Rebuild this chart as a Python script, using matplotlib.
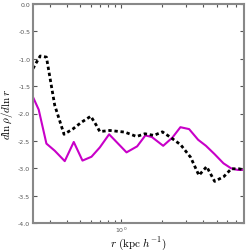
import numpy as np
import matplotlib
matplotlib.use("Agg")
import matplotlib.pyplot as plt
from matplotlib.ticker import LogLocator, MultipleLocator, NullFormatter

plt.rcParams['mathtext.fontset'] = 'cm'

def r_of(px):
    return 10 ** ((np.asarray(px) - 121.5) / 136.0)

# Purple (solid) series
purple_r = r_of([33.3, 39, 46.7, 55, 65, 74, 82.7, 91.7, 100, 109.3, 126.7, 137.3,
                 145.5, 152, 163.3, 172.5, 180.5, 189.2, 198.2, 206, 214.5, 223.5,
                 231, 237.5, 244])
purple_slope = [-1.70, -1.93, -2.55, -2.68, -2.87, -2.52, -2.86, -2.79, -2.62, -2.38,
                -2.71, -2.60, -2.40, -2.43, -2.59, -2.44, -2.25, -2.285, -2.48, -2.59,
                -2.74, -2.91, -3.00, -3.03, -3.03]

# Black (dashed) series
black_r = r_of([33.3, 36, 40.5, 46.7, 55, 64.3, 73.3, 81.7, 91, 96.7, 100, 110, 125,
                136.7, 145, 154, 162.5, 171, 180.7, 190.7, 199, 206.7, 214.7, 224,
                231.3, 239, 244])
black_slope = [-1.18, -1.09, -0.95, -0.97, -1.85, -2.38, -2.28, -2.16, -2.05, -2.22,
               -2.33, -2.31, -2.34, -2.42, -2.37, -2.40, -2.335, -2.44, -2.57, -2.80,
               -3.13, -2.97, -3.24, -3.15, -3.01, -3.01, -3.03]

fig = plt.figure(figsize=(2.48, 2.51), dpi=100)
ax = fig.add_axes([33/248, 1 - 224/251, (244-33)/248, (224-5)/251])

ax.plot(purple_r, purple_slope, color='#c800c8', lw=1.5)
ax.plot(black_r, black_slope, color='black', lw=2.0, dashes=(1.2, 1.0))

ax.set_xscale('log')
ax.set_xlim(r_of(33.3)[()], r_of(244)[()])
ax.set_ylim(-4.0, 0.0)
ax.yaxis.set_major_locator(MultipleLocator(0.5))
ax.yaxis.set_major_formatter(matplotlib.ticker.FormatStrFormatter('%.1f'))
ax.xaxis.set_major_locator(LogLocator(base=10))
ax.xaxis.set_minor_locator(LogLocator(base=10, subs=np.arange(2, 10)))
ax.xaxis.set_minor_formatter(NullFormatter())

for s in ax.spines.values():
    s.set_color('#888888')
    s.set_linewidth(1.5)
ax.tick_params(which='both', direction='in', top=True, right=True,
               colors='#555555', labelsize=4.5, width=0.8)
ax.tick_params(which='major', length=3, pad=2)
ax.tick_params(axis='x', which='major', pad=1)
ax.tick_params(which='minor', length=2)

ax.set_xlabel(r'$r\ (\mathrm{kpc}\ h^{-1})$', fontsize=8)
ax.set_ylabel(r'$d\ln\rho/d\ln r$', fontsize=8)
ax.xaxis.set_label_coords(0.5, -0.05)
ax.yaxis.set_label_coords(-0.085, 0.5)

fig.savefig('out.png', dpi=100)
